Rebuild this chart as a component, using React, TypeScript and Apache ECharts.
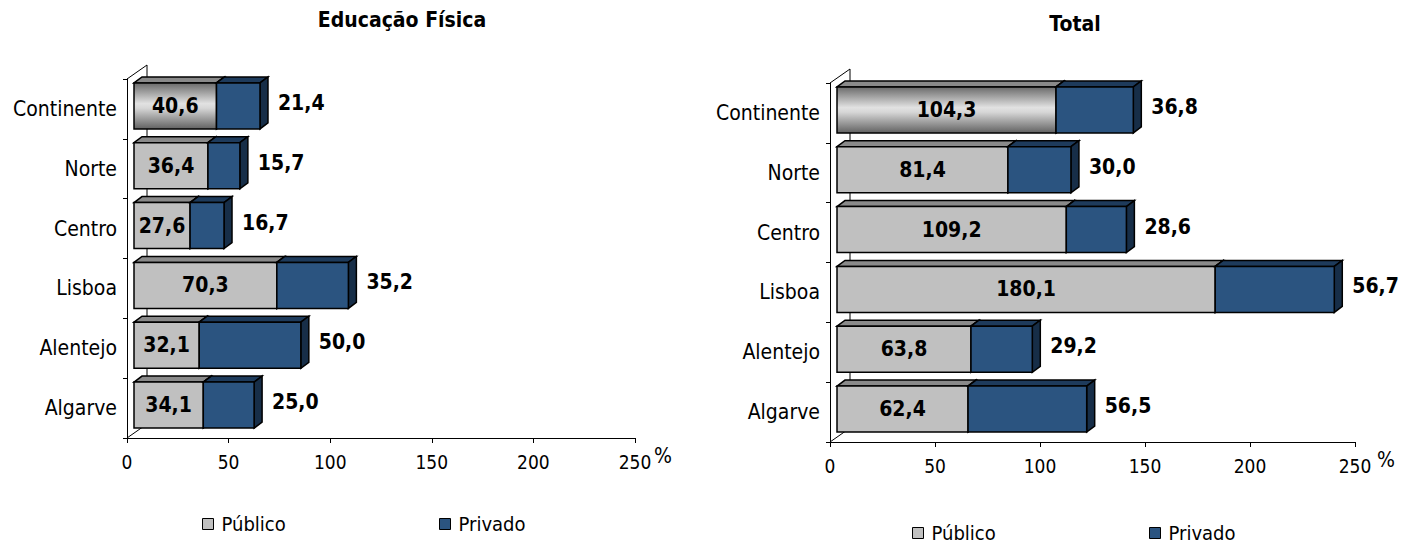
import React, { useEffect, useRef } from 'react';
import * as echarts from 'echarts';

const categories = ['Continente', 'Norte', 'Centro', 'Lisboa', 'Alentejo', 'Algarve'];
const efPublico = [40.6, 36.4, 27.6, 70.3, 32.1, 34.1];
const efPrivado = [21.4, 15.7, 16.7, 35.2, 50.0, 25.0];
const totalPublico = [104.3, 81.4, 109.2, 180.1, 63.8, 62.4];
const totalPrivado = [36.8, 30.0, 28.6, 56.7, 29.2, 56.5];
const xMin = 0;
const xMax = 250;
const xInterval = 50;
const titles = ['Educação Física', 'Total'];
const seriesNames = ['Público', 'Privado'];
const unitLabel = '%';

const FONT = "'DejaVu Sans Condensed', 'DejaVu Sans', sans-serif";
const GRAY = '#C0C0C0';
const GRAY_TOP = '#8a8a8a';
const BLUE = '#2B5480';
const BLUE_TOP = '#1E3B5C';
const BLUE_SIDE = '#172E48';

const fmt = (v: number) => v.toFixed(1).replace('.', ',');

const FRONT_DX = 7;
const FRONT_DY = -3;
const DEPTH_X = 8;
const DEPTH_Y = -6;
const BAR_RATIO = 0.77;

function geom(api: any) {
  const ci = api.value(0);
  const pub = api.value(1);
  const priv = api.value(2);
  const band = api.size([0, 1])[1];
  const h = band * BAR_RATIO;
  const p0 = api.coord([0, ci]);
  const p1 = api.coord([pub, ci]);
  const p2 = api.coord([pub + priv, ci]);
  const yTop = p0[1] - h / 2 + FRONT_DY;
  return {
    ci,
    pub,
    priv,
    h,
    yTop,
    yBot: yTop + h,
    x0: p0[0] + FRONT_DX,
    x1: p1[0] + FRONT_DX,
    x2: p2[0] + FRONT_DX,
  };
}

function box(xa: number, xb: number, yTop: number, yBot: number, front: any, top: string, side: string) {
  const stroke = { stroke: '#000', lineWidth: 1.5 };
  return [
    {
      type: 'polygon',
      shape: { points: [[xa, yTop], [xa + DEPTH_X, yTop + DEPTH_Y], [xb + DEPTH_X, yTop + DEPTH_Y], [xb, yTop]] },
      style: { fill: top, ...stroke },
    },
    {
      type: 'polygon',
      shape: { points: [[xb, yTop], [xb + DEPTH_X, yTop + DEPTH_Y], [xb + DEPTH_X, yBot + DEPTH_Y], [xb, yBot]] },
      style: { fill: side, ...stroke },
    },
    {
      type: 'rect',
      shape: { x: xa, y: yTop, width: xb - xa, height: yBot - yTop },
      style: { fill: front, ...stroke },
    },
  ];
}

const continenteGradient = new echarts.graphic.LinearGradient(0, 0, 0, 1, [
  { offset: 0, color: '#6a6a6a' },
  { offset: 0.45, color: '#e2e2e2' },
  { offset: 0.55, color: '#d6d6d6' },
  { offset: 1, color: '#626262' },
]);

function renderPublico(params: any, api: any) {
  const g = geom(api);
  const front = categories[g.ci] === 'Continente' ? continenteGradient : GRAY;
  return {
    type: 'group',
    children: [
      ...box(g.x0, g.x1, g.yTop, g.yBot, front, GRAY_TOP, GRAY_TOP),
      {
        type: 'text',
        style: {
          text: fmt(g.pub),
          x: (g.x0 + g.x1) / 2,
          y: (g.yTop + g.yBot) / 2,
          align: 'center',
          verticalAlign: 'middle',
          fill: '#000',
          font: `bold 21px ${FONT}`,
        },
      },
    ],
  };
}

function renderPrivado(params: any, api: any) {
  const g = geom(api);
  return {
    type: 'group',
    children: [
      ...box(g.x1, g.x2, g.yTop, g.yBot, BLUE, BLUE_TOP, BLUE_SIDE),
      {
        type: 'text',
        style: {
          text: fmt(g.priv),
          x: g.x2 + 18,
          y: (g.yTop + g.yBot) / 2 - 3,
          align: 'left',
          verticalAlign: 'middle',
          fill: '#000',
          font: `bold 21px ${FONT}`,
        },
      },
    ],
  };
}

function renderWall(params: any, api: any) {
  const cs = params.coordSys;
  const wx = 20;
  const wy = -14;
  const ls = { stroke: '#000', lineWidth: 1 };
  return {
    type: 'group',
    children: [
      { type: 'line', shape: { x1: cs.x, y1: cs.y, x2: cs.x + wx, y2: cs.y + wy }, style: ls },
      { type: 'line', shape: { x1: cs.x + wx, y1: cs.y + wy, x2: cs.x + wx, y2: cs.y + cs.height + wy }, style: ls },
      { type: 'line', shape: { x1: cs.x, y1: cs.y + cs.height, x2: cs.x + wx, y2: cs.y + cs.height + wy }, style: ls },
    ],
  };
}

export default function App() {
  const ref = useRef<HTMLDivElement>(null);
  useEffect(() => {
    if (!ref.current) return;
    const chart = echarts.init(ref.current, undefined, { renderer: 'svg' });
    const panels = [
      { pub: efPublico, priv: efPrivado },
      { pub: totalPublico, priv: totalPrivado },
    ];
    const grids = [
      { left: 127, top: 79, width: 508, height: 359 },
      { left: 830, top: 83, width: 525, height: 359 },
    ];
    const xAxes = grids.map((_, i) => ({
      type: 'value',
      gridIndex: i,
      min: xMin,
      max: xMax,
      interval: xInterval,
      axisLine: { show: true, lineStyle: { color: '#000', width: 1 } },
      axisTick: { show: true, length: 5, lineStyle: { color: '#000' } },
      axisLabel: { color: '#000', fontSize: 19, fontFamily: FONT, margin: 14 },
      splitLine: { show: false },
    }));
    const yAxes = grids.map((_, i) => ({
      type: 'category',
      gridIndex: i,
      inverse: true,
      data: categories,
      axisLine: { show: true, lineStyle: { color: '#000', width: 1 } },
      axisTick: { show: true, length: 4, lineStyle: { color: '#000' } },
      axisLabel: { color: '#000', fontSize: 21, fontFamily: FONT, margin: 10 },
      splitLine: { show: false },
    }));
    const series: any[] = [];
    panels.forEach((p, i) => {
      const data = categories.map((_, k) => [k, p.pub[k], p.priv[k]]);
      series.push({
        type: 'custom',
        name: 'wall' + i,
        xAxisIndex: i,
        yAxisIndex: i,
        silent: true,
        z: 1,
        data: [[0, 0, 0]],
        renderItem: renderWall,
      });
      series.push({
        type: 'custom',
        name: seriesNames[0],
        xAxisIndex: i,
        yAxisIndex: i,
        z: 2,
        itemStyle: { color: GRAY },
        data,
        renderItem: renderPublico,
      });
      series.push({
        type: 'custom',
        name: seriesNames[1],
        xAxisIndex: i,
        yAxisIndex: i,
        z: 3,
        itemStyle: { color: BLUE },
        data,
        renderItem: renderPrivado,
      });
    });
    const legendBase = {
      icon: 'rect',
      itemWidth: 11,
      itemHeight: 11,
      itemGap: 10,
      selectedMode: false,
      padding: 0,
      itemStyle: { borderColor: '#000', borderWidth: 1 },
      textStyle: { color: '#000', fontSize: 20, fontFamily: FONT, padding: [0, 0, 0, 3] },
    };
    chart.setOption({
      animation: false,
      textStyle: { fontFamily: FONT },
      grid: grids,
      xAxis: xAxes,
      yAxis: yAxes,
      series,
      legend: [
        { ...legendBase, data: [seriesNames[0]], left: 202, top: 514 },
        { ...legendBase, data: [seriesNames[1]], left: 439, top: 514 },
        { ...legendBase, data: [seriesNames[0]], left: 912, top: 523 },
        { ...legendBase, data: [seriesNames[1]], left: 1149, top: 523 },
      ],
      graphic: [
        { type: 'text', x: 402, y: 20, style: { text: titles[0], align: 'center', verticalAlign: 'middle', font: `bold 21px ${FONT}`, fill: '#000' } },
        { type: 'text', x: 1075, y: 24, style: { text: titles[1], align: 'center', verticalAlign: 'middle', font: `bold 21px ${FONT}`, fill: '#000' } },
        { type: 'text', x: 654, y: 456, style: { text: unitLabel, align: 'left', verticalAlign: 'middle', font: `21px ${FONT}`, fill: '#000' } },
        { type: 'text', x: 1377, y: 460, style: { text: unitLabel, align: 'left', verticalAlign: 'middle', font: `21px ${FONT}`, fill: '#000' } },
      ],
    });
    return () => chart.dispose();
  }, []);
  return <div ref={ref} style={{ position: 'absolute', left: 0, top: 0, width: 1401, height: 545 }} />;
}
